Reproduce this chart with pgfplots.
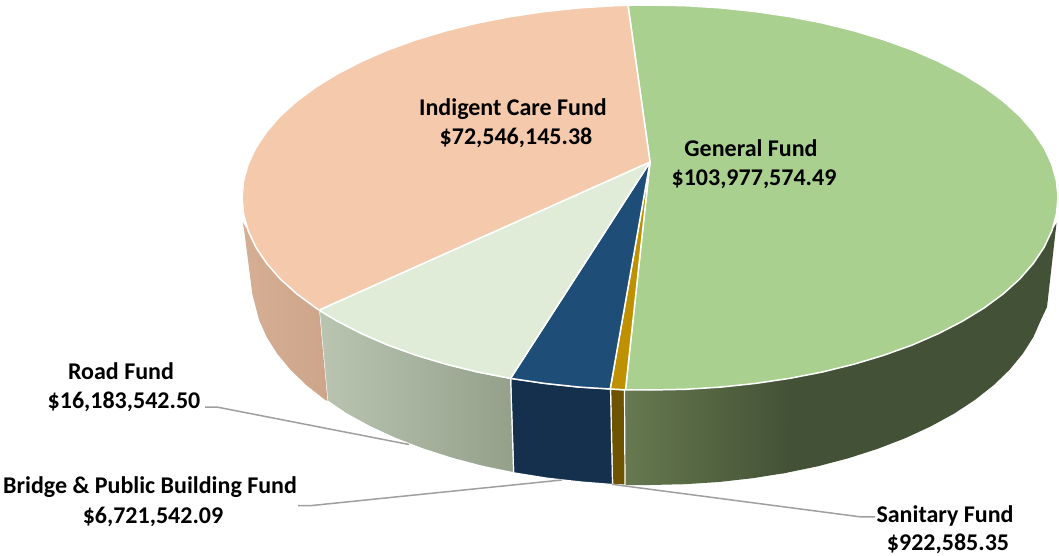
\documentclass[border=0pt]{standalone}
\usepackage{pgfplots}
\pgfplotsset{compat=1.18}
\usepackage{fontspec}
\setmainfont{Carlito}
\definecolor{gentop}{HTML}{A9D08E}
\definecolor{indtop}{HTML}{F5C9AB}
\definecolor{roadtop}{HTML}{E0ECD8}
\definecolor{bridgetop}{HTML}{1E4D78}
\definecolor{santop}{HTML}{BF9000}
\definecolor{genwallA}{HTML}{66794F}
\definecolor{genwallB}{HTML}{435236}
\definecolor{indwallA}{HTML}{D6AE94}
\definecolor{indwallB}{HTML}{CDA58A}
\definecolor{roadwallA}{HTML}{B9C5B1}
\definecolor{roadwallB}{HTML}{95A08B}
\definecolor{bridgewall}{HTML}{14304D}
\definecolor{sanwall}{HTML}{6E5400}
\definecolor{leader}{HTML}{9F9F9F}
\tikzset{lbl/.style={align=center, text=black, inner sep=0pt, font=\fontsize{24}{29.5}\selectfont\bfseries}}
\begin{document}
\begin{tikzpicture}
\begin{axis}[
  scale only axis, width=1059pt, height=556pt,
  xmin=0, xmax=1059, ymin=0, ymax=556, y dir=reverse,
  hide axis, clip=false,
  every axis plot/.append style={mark=none, line join=round, forget plot},
]
% page extent
\addplot[draw=none] coordinates {(0,0) (1059,556)};
% --- side walls ---
\addplot[draw=none, fill=genwallB] coordinates {
 (785,378) (789.5,378.4) (822.4,372) (854,364.2) (884,355.2) (912.3,345) (938.5,333.6) (962.5,321.2) (984.2,307.9) (1003.3,293.8) (1019.8,278.9) (1033.4,263.3) (1044.1,247.3) (1051.8,230.9) (1056.5,223)
 (1047,307) (1041,319.7) (1033.5,336.8) (1023,353.4) (1009.8,369.5) (993.8,385) (975.2,399.7) (954.1,413.6) (930.7,426.4) (905.2,438.2) (877.7,448.8) (848.5,458.2) (817.8,466.3) (785.8,472.9) (782,473.5)
} --cycle;
\addplot[draw=none, left color=genwallA, right color=genwallB] coordinates {
 (625,390) (650,390) (685.6,389.3) (720.8,387.1) (755.6,383.4) (789.5,378.4)
 (785.8,472.9) (752.7,478.2) (718.9,482) (684.6,484.2) (650,485) (625,485)
} --cycle;
\addplot[draw=white, line width=1.2pt, fill=sanwall] coordinates {
 (624.5,390) (610.5,389) (612.5,484.5) (625,485)
} --cycle;
\addplot[draw=white, line width=1.2pt, fill=bridgewall] coordinates {
 (610.5,389) (579.2,387.1) (544.4,383.4) (510.6,378.4)
 (513.6,472.8) (547.3,478.2) (581.1,482) (612.5,484.5)
} --cycle;
\addplot[draw=white, line width=1.2pt, left color=roadwallA, right color=roadwallB] coordinates {
 (510.6,378.4) (477.6,372) (446,364.2) (416,355.2) (387.7,345) (361.5,333.6) (337.5,321.2) (319.2,310.5)
 (327.5,401) (345.9,413.6) (369.3,426.4) (394.8,438.2) (422.3,448.8) (451.5,458.2) (482.2,466.3) (513.6,472.8)
} --cycle;
\addplot[draw=none, left color=indwallA, right color=indwallB] coordinates {
 (319.2,310.5) (315.8,307.9) (296.7,293.8) (280.2,278.9) (266.6,263.3) (255.9,247.3) (248.2,230.9) (243.2,223)
 (252.5,295) (254.5,302.4) (259,319.7) (266.5,336.8) (277,353.4) (290.2,369.5) (306.2,385) (324.8,399.7) (327.5,401)
} --cycle;
% --- top faces ---
\addplot[draw=white, line width=1.5pt, fill=gentop] coordinates {
 (650,162) (628,5.3) (650,5) (685.6,5.7) (720.8,7.9) (755.6,11.6) (789.5,16.6) (822.4,23) (854,30.8) (884,39.8) (912.3,50) (938.5,61.4) (962.5,73.8) (984.2,87.1) (1003.3,101.2) (1019.8,116.1) (1033.4,131.7) (1044.1,147.7) (1051.8,164.1) (1056.4,180.7) (1058,197.5) (1056.4,214.3) (1051.8,230.9) (1044.1,247.3) (1033.4,263.3) (1019.8,278.9) (1003.3,293.8) (984.2,307.9) (962.5,321.2) (938.5,333.6) (912.3,345) (884,355.2) (854,364.2) (822.4,372) (789.5,378.4) (755.6,383.4) (720.8,387.1) (685.6,389.3) (650,390) (625.5,389.8)
} --cycle;
\addplot[draw=white, line width=1.5pt, fill=santop] coordinates {
 (650,162) (625.5,389.8) (610.2,389)
} --cycle;
\addplot[draw=white, line width=1.5pt, fill=bridgetop] coordinates {
 (650,162) (610.2,389) (579.2,387.1) (544.4,383.4) (510.5,378.4)
} --cycle;
\addplot[draw=white, line width=1.5pt, fill=roadtop] coordinates {
 (650,162) (510.5,378.4) (477.6,372) (446,364.2) (416,355.2) (387.7,345) (361.5,333.6) (337.5,321.2) (319,310.1)
} --cycle;
\addplot[draw=white, line width=1.5pt, fill=indtop] coordinates {
 (650,162) (319,310.1) (315.8,307.9) (296.7,293.8) (280.2,278.9) (266.6,263.3) (255.9,247.3) (248.2,230.9) (243.6,214.3) (242,197.5) (243.6,180.7) (248.2,164.1) (255.9,147.7) (266.6,131.7) (280.2,116.1) (296.7,101.2) (315.8,87.1) (337.5,73.8) (361.5,61.4) (387.7,50) (416,39.8) (446,30.8) (477.6,23) (510.5,16.6) (544.4,11.6) (579.2,7.9) (614.4,5.7) (628,5.3)
} --cycle;
% --- leader lines ---
\addplot[leader, line width=1.5pt] coordinates {(205,407) (216.7,407) (409,444.5)};
\addplot[leader, line width=1.5pt] coordinates {(298,505.7) (310,505.7) (561.7,480)};
\addplot[leader, line width=1.5pt] coordinates {(612,484.3) (860,516.8) (875,516.8)};
% --- labels ---
\node[lbl] at (axis cs:516,123) {Indigent Care Fund\hspace*{6pt}\\\$72,546,145.38};
\node[lbl] at (axis cs:754,164) {General Fund\hspace*{6pt}\\\$103,977,574.49};
\node[lbl] at (axis cs:124,387) {Road Fund\hspace*{6pt}\\\$16,183,542.50};
\node[lbl] at (axis cs:153,501.5) {Bridge \& Public Building Fund\hspace*{6pt}\\\$6,721,542.09};
\node[lbl, font=\fontsize{24}{28}\selectfont\bfseries] at (axis cs:948,530) {Sanitary Fund\hspace*{6pt}\\\$922,585.35};
\end{axis}
\end{tikzpicture}
\end{document}
